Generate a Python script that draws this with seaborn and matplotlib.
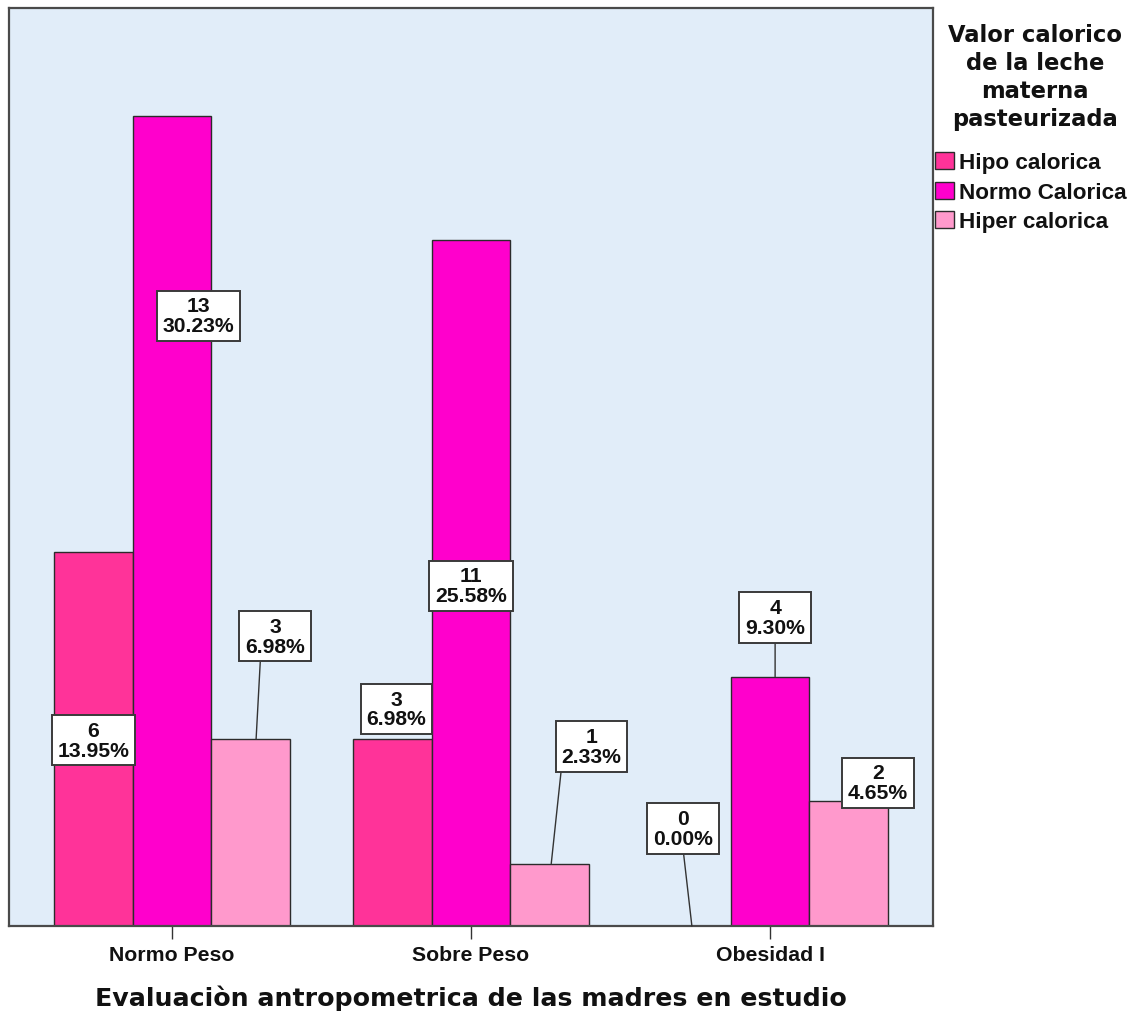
import matplotlib
matplotlib.use("Agg")
import matplotlib.pyplot as plt
from matplotlib.font_manager import FontProperties
import pandas as pd
import seaborn as sns

# Data: counts per anthropometric group and caloric value of the milk
grupos = ["Normo Peso", "Sobre Peso", "Obesidad I"]
valores = ["Hipo calorica", "Normo Calorica", "Hiper calorica"]
conteo_hipo = [6, 3, 0]
conteo_normo = [13, 11, 4]
conteo_hiper = [3, 1, 2]
pct_hipo = ["13.95%", "6.98%", "0.00%"]
pct_normo = ["30.23%", "25.58%", "9.30%"]
pct_hiper = ["6.98%", "2.33%", "4.65%"]

colores = ["#FF3399", "#FF00CC", "#FF99CC"]
titulo_leyenda = "Valor calorico\nde la leche\nmaterna\npasteurizada"

conteos = [conteo_hipo, conteo_normo, conteo_hiper]
pcts = [pct_hipo, pct_normo, pct_hiper]

df = pd.DataFrame({
    "grupo": [g for v in range(3) for g in grupos],
    "valor": [valores[v] for v in range(3) for _ in grupos],
    "n": [conteos[v][i] for v in range(3) for i in range(3)],
})

sns.set_style("white")

fig = plt.figure(figsize=(11.32, 10.2), dpi=100)
ax = fig.add_axes([9 / 1132, 1 - 927 / 1020, 924 / 1132, 918 / 1020])
ax.set_facecolor("#E1EDF9")

sns.barplot(data=df, x="grupo", y="n", hue="valor", order=grupos,
            hue_order=valores, palette=colores, saturation=1, width=0.79,
            edgecolor="#2b2b2b", linewidth=1.0, ax=ax)

ax.set_xlim(-0.545, 2.545)
ax.set_ylim(0, 14.73)
ax.set_yticks([])
ax.set_ylabel("")

for s in ax.spines.values():
    s.set_visible(True)
    s.set_color("#4a4a4a")
    s.set_linewidth(1.6)

lab_font = FontProperties(family=["Liberation Sans", "DejaVu Sans"], weight="bold", size=15.3)
ax.tick_params(axis="x", direction="out", length=9.5, width=1.0, color="#333333",
               pad=4, bottom=True)
for t in ax.get_xticklabels():
    t.set_fontproperties(lab_font)
    t.set_color("#111111")

ax.set_xlabel("Evaluaciòn antropometrica de las madres en estudio",
              fontfamily=["DejaVu Sans"], fontweight="bold", fontsize=18.2,
              color="#111111", labelpad=15)

# Value labels: (offset from bar centre, label height, leader anchor, leader end offset)
lab_dx = [[0.0, 0.014, -0.028], [0.089, 0.0, 0.017], [0.081, 0.140, 0.097]]
lab_y = [[2.98, 3.48, 1.565], [9.79, 5.46, 4.95], [4.65, 2.88, 2.30]]
lider = [[None, None, 0.5], [None, None, 0.5], [0.26, 0.0, None]]
lider_dx = [[0, 0, 0.002], [0, 0, 0.017], [0.018, 0.005, 0]]

num_font = FontProperties(family=["Liberation Sans", "DejaVu Sans"], weight="bold", size=15.2)
caja = dict(boxstyle="square,pad=0.27", fc="white", ec="#3a3a3a", lw=1.4)

for h, cont in enumerate(ax.containers):
    for i, bar in enumerate(cont):
        xc = bar.get_x() + bar.get_width() / 2
        alto = bar.get_height()
        texto = f"{conteos[h][i]}\n{pcts[h][i]}"
        pos = (xc + lab_dx[h][i], lab_y[h][i])
        if lider[h][i] is None:
            ax.text(*pos, texto, ha="center", va="center", fontproperties=num_font,
                    linespacing=1.05, bbox=caja, color="#111111", zorder=5)
        else:
            ax.annotate(texto, xy=(xc + lider_dx[h][i], alto), xytext=pos,
                        ha="center", va="center", fontproperties=num_font,
                        linespacing=1.05, bbox=caja, color="#111111", zorder=5,
                        arrowprops=dict(arrowstyle="-", color="#333333", lw=1.0,
                                        relpos=(lider[h][i], 0.0),
                                        shrinkA=0, shrinkB=0))

# Legend: title set as its own text block above the entries
tit_font = FontProperties(family=["DejaVu Sans"], weight="bold", size=16.3)
item_font = FontProperties(family=["Liberation Sans", "DejaVu Sans"], weight="bold", size=16.2)
fig.text(1035 / 1132, 1 - 24 / 1020, titulo_leyenda, ha="center", va="top",
         multialignment="center", linespacing=1.28, fontproperties=tit_font,
         color="#111111")
sns.move_legend(ax, "upper left", bbox_to_anchor=(935 / 1132, 1 - 153 / 1020),
                bbox_transform=fig.transFigure, frameon=False, title=None,
                prop=item_font, handlelength=0.85, handleheight=0.8,
                handletextpad=0.2, labelspacing=0.36, borderpad=0, borderaxespad=0)
leg = ax.get_legend()
for t in leg.get_texts():
    t.set_color("#111111")

fig.savefig("out.png", dpi=100)
